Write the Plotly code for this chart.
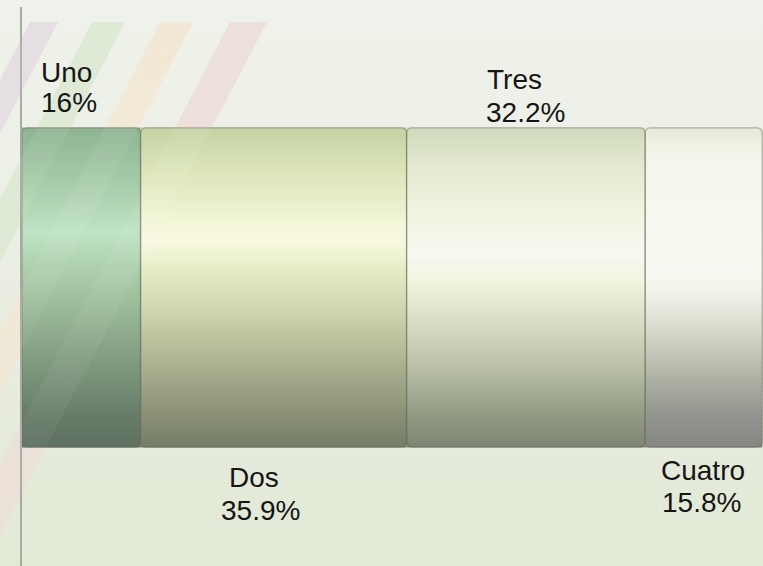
import base64
import numpy as np
import plotly.graph_objects as go

# ---------------- data ----------------
categories = ["Uno", "Dos", "Tres", "Cuatro"]
values = [16.0, 35.9, 32.2, 15.8]
pct_labels = ["16%", "35.9%", "32.2%", "15.8%"]

# ---------------- style ----------------
W, H = 763, 566
ML, MT = 22, 7
FONT = dict(family="Liberation Sans, Arial, sans-serif", size=28, color="#161616")
label_side = ["top", "bottom", "top", "bottom"]
# pixel offsets of the left edge of each text line relative to the segment centre
name_xshift = [-42, -47, -41, -45]
pct_xshift = [-42, -55, -42, -44]
# pixel offsets (bottom anchor) relative to bar top / bar bottom
name_yshift = [38, -48, 31, -41]
pct_yshift = [8, -81, -2, -73]

shade_stops = {
    "Uno": [(0.0, "#8db491"), (0.15, "#a3c8a5"), (0.33, "#bfe3c4"), (0.42, "#b0d3b0"),
            (0.55, "#9dbd9a"), (0.75, "#7e987e"), (0.9, "#687d69"), (1.0, "#5f7060")],
    "Dos": [(0.0, "#c6d2a3"), (0.12, "#d9e3b6"), (0.3, "#f4f6d8"), (0.36, "#f8f8e0"),
            (0.44, "#e6eec6"), (0.58, "#ccd5ae"), (0.75, "#a9b08f"), (0.9, "#8a9176"), (1.0, "#767d68")],
    "Tres": [(0.0, "#d1dabd"), (0.12, "#e3e9cf"), (0.3, "#f2f5e4"), (0.4, "#f7f8f0"),
             (0.48, "#f1f5df"), (0.6, "#d9e0c7"), (0.75, "#bac1a7"), (0.88, "#979f86"), (1.0, "#7f8474")],
    "Cuatro": [(0.0, "#e6eada"), (0.1, "#f4f6ec"), (0.45, "#f8f9f2"), (0.52, "#f0f2e8"),
               (0.65, "#d3d7c9"), (0.8, "#aaaea1"), (0.9, "#939690"), (1.0, "#868983")],
}
N_STRIPS = 80


def hex2rgb(h):
    h = h.lstrip("#")
    return np.array([int(h[i:i + 2], 16) for i in (0, 2, 4)], dtype=float)


def shade(stops, t):
    for (p0, c0), (p1, c1) in zip(stops[:-1], stops[1:]):
        if p0 <= t <= p1:
            f = (t - p0) / (p1 - p0) if p1 > p0 else 0
            c = hex2rgb(c0) * (1 - f) + hex2rgb(c1) * f
            return "rgb(%d,%d,%d)" % tuple(np.round(c))
    return stops[-1][1]


bases = list(np.cumsum([0] + values[:-1]))

# strips for cylinder shading
ys, xs, bs, cs = [], [], [], []
for i in range(N_STRIPS):
    t = (i + 0.5) / N_STRIPS
    yc = 0.5 - t
    for cat, v, b in zip(categories, values, bases):
        ys.append(yc)
        xs.append(v)
        bs.append(b)
        cs.append(shade(shade_stops[cat], t))

fig = go.Figure()
fig.add_trace(go.Bar(orientation="h", y=ys, x=xs, base=bs, width=1.0 / N_STRIPS * 1.25,
                     marker=dict(color=cs, line=dict(width=0)), hoverinfo="skip",
                     showlegend=False))
fig.add_trace(go.Bar(orientation="h", y=[0] * len(values), x=values, base=bases, width=1.0,
                     marker=dict(color="rgba(0,0,0,0)",
                                 line=dict(color="rgba(95,100,85,0.45)", width=1.3),
                                 cornerradius=5),
                     hoverinfo="skip", showlegend=False))

# labels
for k, (cat, v, b, p, side) in enumerate(zip(categories, values, bases, pct_labels, label_side)):
    yref_val = 0.5 if side == "top" else -0.5
    for txt, dx, dy in ((cat, name_xshift[k], name_yshift[k]), (p, pct_xshift[k], pct_yshift[k])):
        fig.add_annotation(x=b + v / 2, y=yref_val, xref="x", yref="y", text=txt,
                           showarrow=False, xanchor="left", yanchor="bottom",
                           xshift=dx, yshift=dy, font=FONT)

# background (gradient + diagonal stripes) as an embedded SVG
stripes = [(30, 58, "#e3dbe0"), (92, 125, "#dbe8d2"), (160, 193, "#f1e6d2"), (230, 267, "#ecddd7")]
top_y, slope = 22, 0.52


def stripe_polys(fill_fn):
    out = []
    for k, (a, b, col) in enumerate(stripes):
        d = (H - top_y) * slope
        out.append(f"<linearGradient id='g{k}' gradientUnits='userSpaceOnUse' x1='{a}' y1='{top_y}' x2='{a-d}' y2='{H}'>"
                   f"{fill_fn(col)}</linearGradient>")
        out.append(f"<polygon points='{a},{top_y} {b},{top_y} {b-d},{H} {a-d},{H}' fill='url(#g{k})'/>")
    return "".join(out)


bg_svg = (f"<svg xmlns='http://www.w3.org/2000/svg' width='{W}' height='{H}' viewBox='0 0 {W} {H}' preserveAspectRatio='none'>"
          "<defs><linearGradient id='bg' x1='0' y1='0' x2='0' y2='1'>"
          "<stop offset='0' stop-color='#eff2ea'/><stop offset='0.5' stop-color='#eaeee2'/><stop offset='1' stop-color='#e2e9d5'/>"
          "</linearGradient></defs>"
          f"<rect width='{W}' height='{H}' fill='url(#bg)'/>"
          + stripe_polys(lambda c: f"<stop offset='0' stop-color='{c}' stop-opacity='1'/><stop offset='1' stop-color='{c}' stop-opacity='0.7'/>")
          + "</svg>")
fg_svg = (f"<svg xmlns='http://www.w3.org/2000/svg' width='{W}' height='{H}' viewBox='0 0 {W} {H}' preserveAspectRatio='none'>"
          + stripe_polys(lambda c: "<stop offset='0' stop-color='#ffffff' stop-opacity='0.08'/><stop offset='1' stop-color='#ffffff' stop-opacity='0.03'/>")
          + "</svg>")


def uri(s):
    return "data:image/svg+xml;base64," + base64.b64encode(s.encode()).decode()


pw, ph = W - ML, H - MT
img_kw = dict(xref="paper", yref="paper", x=-ML / pw, y=1 + MT / ph, sizex=W / pw, sizey=H / ph,
              xanchor="left", yanchor="top", sizing="stretch")
fig.add_layout_image(source=uri(bg_svg), layer="below", **img_kw)
fig.add_layout_image(source=uri(fg_svg), layer="above", **img_kw)

fig.update_layout(
    width=W, height=H, margin=dict(l=ML, r=0, t=MT, b=0),
    paper_bgcolor="#e9eee2", plot_bgcolor="rgba(0,0,0,0)",
    barmode="overlay", showlegend=False,
    xaxis=dict(range=[0, 100], visible=False, fixedrange=True),
    yaxis=dict(range=[-0.873, 0.879], showline=True, linecolor="#a8aaa4", linewidth=1.5,
               showticklabels=False, ticks="", showgrid=False, zeroline=False, fixedrange=True),
)

fig.write_html("out.html", config=dict(displayModeBar=False),
               post_script="document.body.style.margin='0';document.body.style.overflow='hidden';")
